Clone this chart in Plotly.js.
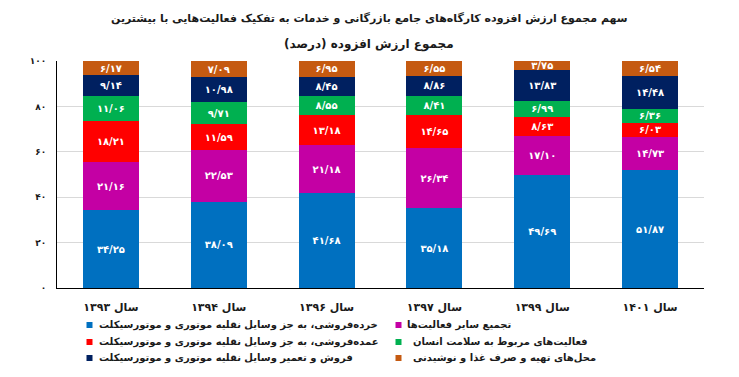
<!DOCTYPE html>
<html><head><meta charset="utf-8">
<script src="https://cdn.plot.ly/plotly-3.0.1.min.js"></script>
<style>html,body{margin:0;padding:0;background:#fff}</style>
</head><body><div id="chart" style="width:739px;height:377px"></div>
<script>
// ---- data ----
const years = ['سال ۱۳۹۳', 'سال ۱۳۹۴', 'سال ۱۳۹۶', 'سال ۱۳۹۷', 'سال ۱۳۹۹', 'سال ۱۴۰۱'];
const seriesNames = [
  'خرده\u200cفروشی، به جز وسایل نقلیه موتوری و موتورسیکلت',
  'تجمیع سایر فعالیت\u200cها',
  'عمده\u200cفروشی، به جز وسایل نقلیه موتوری و موتورسیکلت',
  'فعالیت\u200cهای مربوط به سلامت انسان',
  'فروش و تعمیر وسایل نقلیه موتوری و موتورسیکلت',
  'محل\u200cهای تهیه و صرف غذا و نوشیدنی'
];
const retail          = [34.25, 38.09, 41.68, 35.18, 49.69, 51.87];
const otherActivities = [21.16, 22.53, 21.18, 26.34, 17.10, 14.73];
const wholesale       = [18.21, 11.59, 13.18, 14.65, 8.63, 6.03];
const health          = [11.06, 9.71, 8.55, 8.41, 6.99, 6.36];
const vehicleTrade    = [9.14, 10.98, 8.45, 8.86, 13.83, 14.48];
const foodService     = [6.17, 7.09, 6.95, 6.55, 3.75, 6.54];
const yTickValues = [0, 20, 40, 60, 80, 100];
const yTickLabels = ['۰', '۲۰', '۴۰', '۶۰', '۸۰', '۱۰۰'];
const titleLine1 = 'سهم مجموع ارزش افزوده کارگاه\u200cهای جامع بازرگانی و خدمات به تفکیک فعالیت\u200cهایی با بیشترین';
const titleLine2 = 'مجموع ارزش افزوده (درصد)';

// ---- style ----
const colors = ['#0070C0', '#C400A4', '#FF0000', '#00B050', '#002060', '#C55A11'];
const FONT = 'DejaVu Sans';
const seriesValues = [retail, otherActivities, wholesale, health, vehicleTrade, foodService];

const faDigits = '۰۱۲۳۴۵۶۷۸۹';
function toFa(v) {
  return v.toFixed(2).replace(/[0-9]/g, d => faDigits[+d]).replace('.', '/');
}

const traces = seriesValues.map((vals, i) => ({
  type: 'bar',
  x: years,
  y: vals,
  name: seriesNames[i],
  marker: {color: colors[i], line: {width: 0}},
  text: vals.map(toFa),
  textposition: 'inside',
  insidetextanchor: 'middle',
  constraintext: 'none',
  textfont: {family: FONT, size: 10, color: '#ffffff', weight: 'bold'},
  hoverinfo: 'none',
  showlegend: false
}));

// plot area in pixels
const L = 57, R = 704, T = 61, B = 288;
const px = x => (x - L) / (R - L);
const py = y => (B - y) / (B - T);

// custom legend: marker x, text start x, row y
const legendSlots = [
  {i: 0, mx: 89.5, tx: 97, y: 325},
  {i: 1, mx: 398.5, tx: 405, y: 325},
  {i: 2, mx: 89.5, tx: 97, y: 342},
  {i: 3, mx: 398.5, tx: 411, y: 342},
  {i: 4, mx: 89.5, tx: 97, y: 358},
  {i: 5, mx: 398.5, tx: 411, y: 358}
];
const annotations = [];
const shapes = [];
legendSlots.forEach(s => {
  shapes.push({
    type: 'rect', xref: 'paper', yref: 'paper',
    xsizemode: 'pixel', ysizemode: 'pixel',
    xanchor: px(s.mx), yanchor: py(s.y),
    x0: -3, x1: 3, y0: -3, y1: 3,
    fillcolor: colors[s.i], line: {width: 0}
  });
  annotations.push({
    xref: 'paper', yref: 'paper',
    x: px(s.tx), y: py(s.y),
    xanchor: 'left', yanchor: 'middle',
    text: seriesNames[s.i],
    showarrow: false,
    font: {family: FONT, size: 10, color: '#1a1a1a', weight: 'bold'}
  });
});
annotations.push({
  xref: 'paper', yref: 'paper', x: px(369), y: py(45),
  xanchor: 'center', yanchor: 'middle', showarrow: false,
  text: titleLine2,
  font: {family: FONT, size: 12, color: '#1a1a1a', weight: 'bold'}
});
annotations.push({
  xref: 'paper', yref: 'paper', x: px(369), y: py(19),
  xanchor: 'center', yanchor: 'middle', showarrow: false,
  text: titleLine1,
  font: {family: FONT, size: 11, color: '#1a1a1a', weight: 'bold'}
});

const layout = {
  width: 739, height: 377,
  margin: {l: L, r: 739 - R, t: T, b: 377 - B, pad: 0},
  paper_bgcolor: '#fff', plot_bgcolor: '#fff',
  barmode: 'stack',
  bargap: 0.48,
  showlegend: false,
  hovermode: false,
  font: {family: FONT, color: '#222'},
  xaxis: {
    type: 'category',
    showline: true, linecolor: '#000', linewidth: 1,
    showgrid: false, ticks: '', zeroline: false,
    tickfont: {family: FONT, size: 11, color: '#1a1a1a', weight: 'bold'},
    ticklabelstandoff: 9,
    fixedrange: true
  },
  yaxis: {
    range: [0, 100],
    tickvals: yTickValues, ticktext: yTickLabels, tickmode: 'array',
    showline: true, linecolor: '#000', linewidth: 1,
    showgrid: true, gridcolor: '#d9d9d9', gridwidth: 1,
    zeroline: false, ticks: '',
    tickfont: {family: FONT, size: 9, color: '#1a1a1a', weight: 'bold'},
    ticklabelstandoff: 8,
    fixedrange: true
  },
  shapes: shapes,
  annotations: annotations
};

Plotly.newPlot('chart', traces, layout, {displayModeBar: false, staticPlot: true});
</script>
</body></html>
